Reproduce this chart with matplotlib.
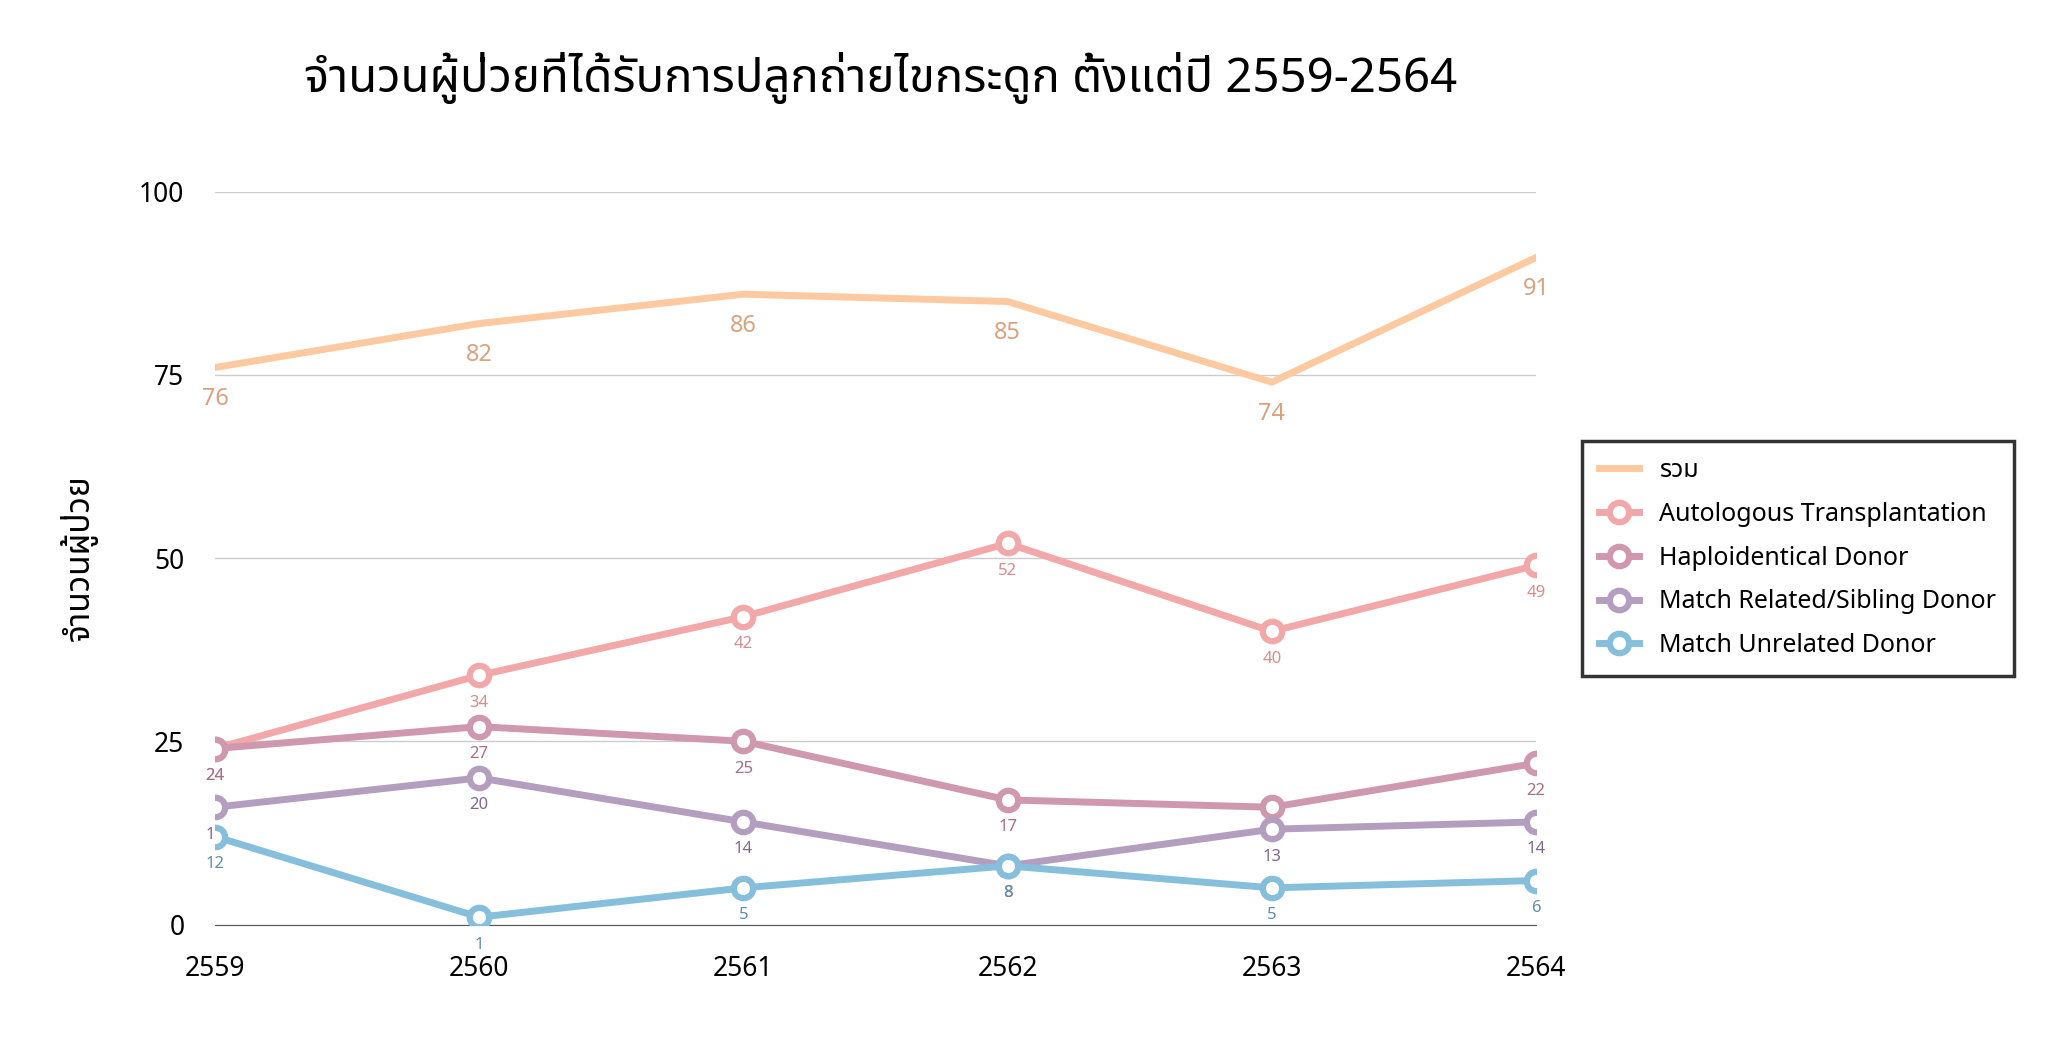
import matplotlib
matplotlib.use("Agg")
import matplotlib.pyplot as plt
from matplotlib import font_manager

years = ["2559", "2560", "2561", "2562", "2563", "2564"]
total = [76, 82, 86, 85, 74, 91]
auto = [24, 34, 42, 52, 40, 49]
haplo = [24, 27, 25, 17, 16, 22]
sibling = [16, 20, 14, 8, 13, 14]
unrelated = [12, 1, 5, 8, 5, 6]

names = {f.name for f in font_manager.fontManager.ttflist}
fams = [f for f in ["Noto Sans", "Noto Sans Thai", "Loma", "Garuda", "DejaVu Sans"] if f in names]
plt.rcParams['font.family'] = fams

fig = plt.figure(figsize=(20.48, 10.47), dpi=100)
ax = fig.add_axes([0.105, 0.117, 0.645, 0.70])
x = range(len(years))

series = [
    ("รวม", total, "#fdc9a0", "#d9a27e", False, 17),
    ("Autologous Transplantation", auto, "#f2a7a8", "#d98c8e", True, 12),
    ("Haploidentical Donor", haplo, "#cf98ae", "#a86f87", True, 12),
    ("Match Related/Sibling Donor", sibling, "#b49ebf", "#7e6891", True, 12),
    ("Match Unrelated Donor", unrelated, "#86bfdc", "#5d8fa8", True, 12),
]
for name, vals, c, lc, mk, fs in series:
    if mk:
        ax.plot(x, vals, color=c, lw=5, marker='o', ms=14, mfc='white', mec=c, mew=4.5, label=name, zorder=3)
    else:
        ax.plot(x, vals, color=c, lw=5, label=name, zorder=3)
    for i, v in zip(x, vals):
        ax.annotate(str(v), (i, v), xytext=(0, -14), textcoords='offset points',
                    ha='center', va='top', fontsize=fs, color=lc, fontweight='bold')

ax.set_ylim(0, 100)
ax.set_xlim(0, 5)
ax.set_yticks([0, 25, 50, 75, 100])
ax.set_xticks(list(x))
ax.set_xticklabels(years)
ax.grid(axis='y', color='#cccccc', lw=1)
ax.set_axisbelow(True)
for s in ["top", "right", "left"]:
    ax.spines[s].set_visible(False)
ax.spines["bottom"].set_color("#555555")
ax.tick_params(length=0, labelsize=19, pad=22)
for t in ax.get_xticklabels() + ax.get_yticklabels():
    t.set_fontweight('bold')
ax.set_ylabel("จำนวนผู้ป่วย", fontsize=24, fontweight='bold', labelpad=30)
fig.suptitle("จำนวนผู้ป่วยที่ได้รับการปลูกถ่ายไขกระดูก ตั้งแต่ปี 2559-2564", x=0.43, y=0.95,
             fontsize=34, fontweight='bold')
leg = ax.legend(loc='center left', bbox_to_anchor=(1.025, 0.5), fontsize=18, frameon=True,
                fancybox=False, edgecolor='black', borderpad=0.7, labelspacing=0.75,
                handlelength=1.6)
leg.get_frame().set_linewidth(2.5)
fig.savefig("out.png", dpi=100)
